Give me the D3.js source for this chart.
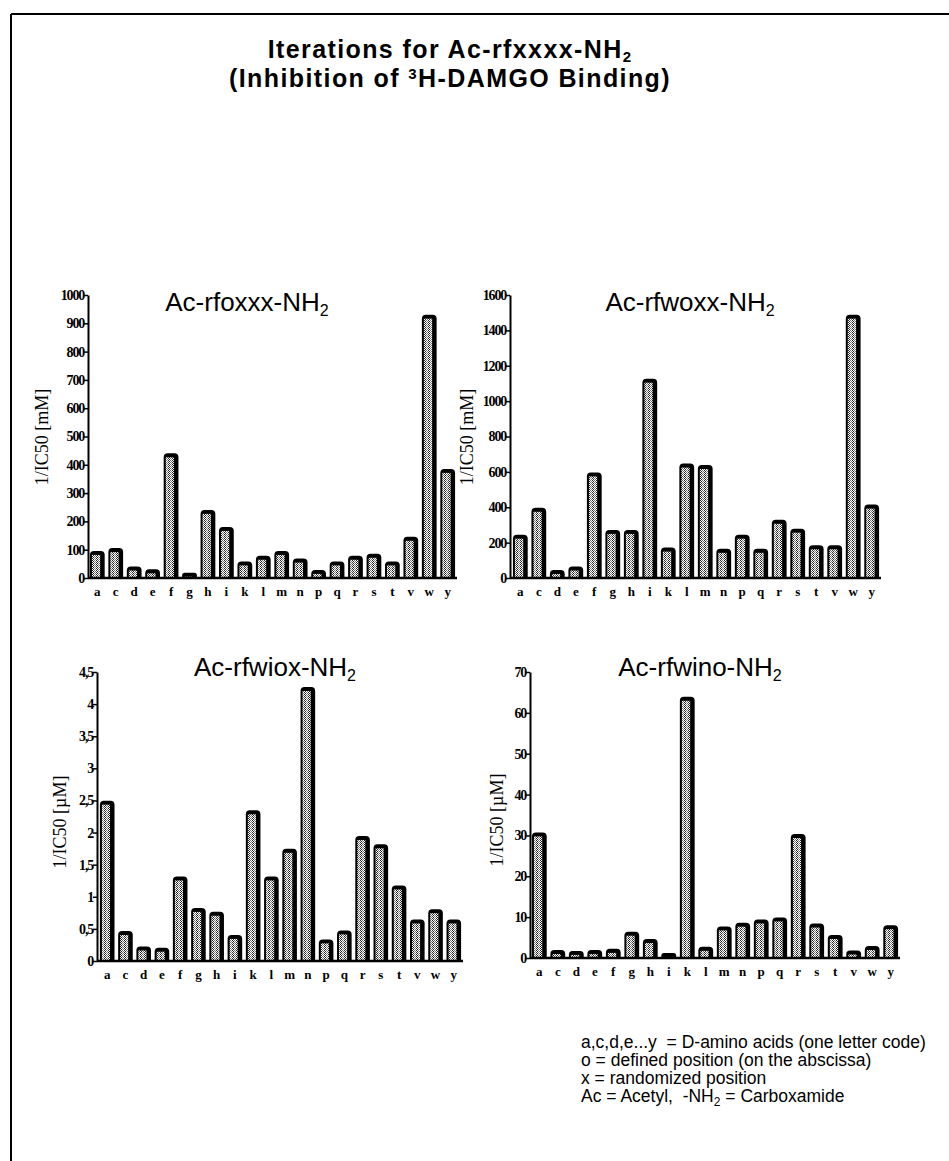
<!DOCTYPE html>
<html><head><meta charset="utf-8">
<script src="https://cdn.jsdelivr.net/npm/d3@7"></script>
<style>
body{margin:0;background:#fff;}
svg{display:block;}
text{white-space:pre;}
</style></head>
<body>
<svg id="c" width="949" height="1161"></svg>
<script>
const categories = ["a","c","d","e","f","g","h","i","k","l","m","n","p","q","r","s","t","v","w","y"];

const valuesRfoxxx = [85,95,30,20,430,8,230,170,48,68,85,58,18,48,68,75,48,135,920,375];
const valuesRfwoxx = [228,380,28,48,580,255,255,1110,155,630,622,148,228,148,312,262,168,168,1472,398];
const valuesRfwiox = [2.45,0.42,0.18,0.16,1.27,0.78,0.72,0.36,2.30,1.27,1.70,4.22,0.29,0.43,1.90,1.77,1.13,0.60,0.76,0.60];
const valuesRfwino = [30,1.2,1.0,1.2,1.5,5.7,3.9,0.5,63.2,2.0,7.0,7.9,8.7,9.2,29.6,7.7,4.9,1.1,2.2,7.3];

const ticks1 = [0,100,200,300,400,500,600,700,800,900,1000];
const tickLabels1 = ["0","100","200","300","400","500","600","700","800","900","1000"];
const ticks2 = [0,200,400,600,800,1000,1200,1400,1600];
const tickLabels2 = ["0","200","400","600","800","1000","1200","1400","1600"];
const ticks3 = [0,0.5,1,1.5,2,2.5,3,3.5,4,4.5];
const tickLabels3 = ["0","0,5","1","1,5","2","2,5","3","3,5","4","4,5"];
const ticks4 = [0,10,20,30,40,50,60,70];
const tickLabels4 = ["0","10","20","30","40","50","60","70"];

const panelTitles = ["Ac-rfoxxx-","Ac-rfwoxx-","Ac-rfwiox-","Ac-rfwino-"];
const yTitles = ["1/IC50 [mM]","1/IC50 [mM]","1/IC50 [\u00b5M]","1/IC50 [\u00b5M]"];
const mainTitle1 = "Iterations for Ac-rfxxxx-NH";
const mainTitle2a = "(Inhibition of ";
const mainTitle2b = "H-DAMGO Binding)";
const legendLines = [
  ["a,c,d,e...y  = D-amino acids (one letter code)"],
  ["o = defined position (on the abscissa)"],
  ["x = randomized position"],
  ["Ac = Acetyl,  -NH","2"," = Carboxamide"]
];

const svg = d3.select("#c");
const defs = svg.append("defs");
const pat = defs.append("pattern").attr("id","hatch").attr("patternUnits","userSpaceOnUse")
  .attr("width",4).attr("height",4);
pat.append("rect").attr("width",4).attr("height",4).attr("fill","#fff");
[[0,0],[2,0],[1,1],[3,1],[0,2],[2,2],[1,3],[3,3]].forEach(([x,y],i)=>{
  pat.append("rect").attr("x",x).attr("y",y).attr("width",1).attr("height",1)
    .attr("fill", (i%2===0) ? "#222" : "#777");
});

// frame
svg.append("line").attr("x1",11).attr("x2",949).attr("y1",14).attr("y2",14).attr("stroke","#000").attr("stroke-width",2);
svg.append("line").attr("x1",11).attr("x2",11).attr("y1",14).attr("y2",1161).attr("stroke","#000").attr("stroke-width",2);

// main title
const sans = "'Liberation Sans', Arial, Helvetica, sans-serif";
const serif = "'Liberation Serif', 'Times New Roman', serif";
const t1 = svg.append("text").attr("x",450).attr("y",58).attr("text-anchor","middle")
  .attr("font-family",sans).attr("font-weight","bold").attr("font-size",25).attr("letter-spacing",1.4);
t1.append("tspan").text(mainTitle1);
t1.append("tspan").attr("font-size",15).attr("dy",4).text("2");
const t2 = svg.append("text").attr("x",450).attr("y",87).attr("text-anchor","middle")
  .attr("font-family",sans).attr("font-weight","bold").attr("font-size",25).attr("letter-spacing",1.4);
t2.append("tspan").text(mainTitle2a);
t2.append("tspan").attr("font-size",15).attr("dy",-8).text("3");
t2.append("tspan").attr("dy",8).text(mainTitle2b);

const panels = [
  {vals:valuesRfoxxx, ticks:ticks1, labels:tickLabels1, max:1000, ax:88, x0:89, x1:456, top:295, base:578, title:panelTitles[0], tx:247, ty:311, ytx:42, yty:437, yt:yTitles[0]},
  {vals:valuesRfwoxx, ticks:ticks2, labels:tickLabels2, max:1600, ax:510, x0:512, x1:880, top:295, base:578, title:panelTitles[1], tx:690, ty:311, ytx:467, yty:437, yt:yTitles[1]},
  {vals:valuesRfwiox, ticks:ticks3, labels:tickLabels3, max:4.5, ax:97, x0:99, x1:462, top:672, base:961, title:panelTitles[2], tx:275, ty:676, ytx:60, yty:822, yt:yTitles[2]},
  {vals:valuesRfwino, ticks:ticks4, labels:tickLabels4, max:70, ax:530, x0:531, x1:899, top:672, base:958, title:panelTitles[3], tx:700, ty:676, ytx:497, yty:820, yt:yTitles[3]}
];

function barPath(x0,x1,yt,yb,r){
  r = Math.min(r,(yb-yt)/2,(x1-x0)/2);
  return `M${x0},${yb}L${x0},${yt+r}Q${x0},${yt} ${x0+r},${yt}L${x1-r},${yt}Q${x1},${yt} ${x1},${yt+r}L${x1},${yb}Z`;
}

panels.forEach(p=>{
  const g = svg.append("g");
  const x = d3.scaleBand().domain(categories).range([p.x0,p.x1]).paddingInner(0.2).paddingOuter(0.05);
  const y = d3.scaleLinear().domain([0,p.max]).range([p.base,p.top]);
  const bw = x.bandwidth();

  // bars
  const bars = g.selectAll("g.bar").data(p.vals).enter().append("g");
  bars.append("path").attr("d",(d,i)=>{
    const bx = x(categories[i]);
    return barPath(bx, bx+bw, Math.min(y(d)-3, p.base-3), p.base, 4);
  }).attr("fill","#000");
  bars.append("rect")
    .attr("x",(d,i)=>x(categories[i])+2)
    .attr("y",d=>Math.min(y(d)+1, p.base-1))
    .attr("width",bw-6.5)
    .attr("height",d=>Math.max(p.base-Math.min(y(d)+1,p.base-1),0))
    .attr("fill","url(#hatch)");

  // y axis
  const yAxis = d3.axisLeft(y).tickValues(p.ticks).tickFormat((d,i)=>p.labels[i]).tickSize(4).tickSizeOuter(0).tickPadding(0);
  const ag = g.append("g").attr("transform",`translate(${p.ax},0)`).call(yAxis);
  ag.select(".domain").attr("stroke","#000").attr("stroke-width",2);
  ag.selectAll(".tick line").attr("stroke","#000").attr("stroke-width",1.5);
  ag.selectAll(".tick text").attr("font-family",serif).attr("font-weight","bold")
    .attr("font-size",14).attr("letter-spacing",-1.2).attr("fill","#000");

  // baseline
  g.append("line").attr("x1",p.ax).attr("x2",p.x1+1).attr("y1",p.base).attr("y2",p.base)
    .attr("stroke","#000").attr("stroke-width",2.5);

  // category labels
  g.selectAll("text.cat").data(categories).enter().append("text")
    .attr("x",d=>x(d)+bw/2).attr("y",p.base+18).attr("text-anchor","middle")
    .attr("font-family",serif).attr("font-weight","bold").attr("font-size",13).text(d=>d);

  // panel title
  const pt = g.append("text").attr("x",p.tx).attr("y",p.ty).attr("text-anchor","middle")
    .attr("font-family",sans).attr("font-size",26);
  pt.append("tspan").text(p.title+"NH");
  pt.append("tspan").attr("font-size",16).attr("dy",5).text("2");

  // y title
  g.append("text").attr("transform",`translate(${p.ytx},${p.yty}) rotate(-90)`)
    .attr("text-anchor","middle").attr("dy","0.35em")
    .attr("font-family",serif).attr("font-size",18).text(p.yt);
});

// legend
legendLines.forEach((parts,i)=>{
  const t = svg.append("text").attr("x",581).attr("y",1048+i*18)
    .attr("font-family",sans).attr("font-size",17.5);
  if(parts.length===1){ t.text(parts[0]); }
  else {
    t.append("tspan").text(parts[0]);
    t.append("tspan").attr("font-size",12).attr("dy",4).text(parts[1]);
    t.append("tspan").attr("dy",-4).text(parts[2]);
  }
});
</script>
</body></html>
